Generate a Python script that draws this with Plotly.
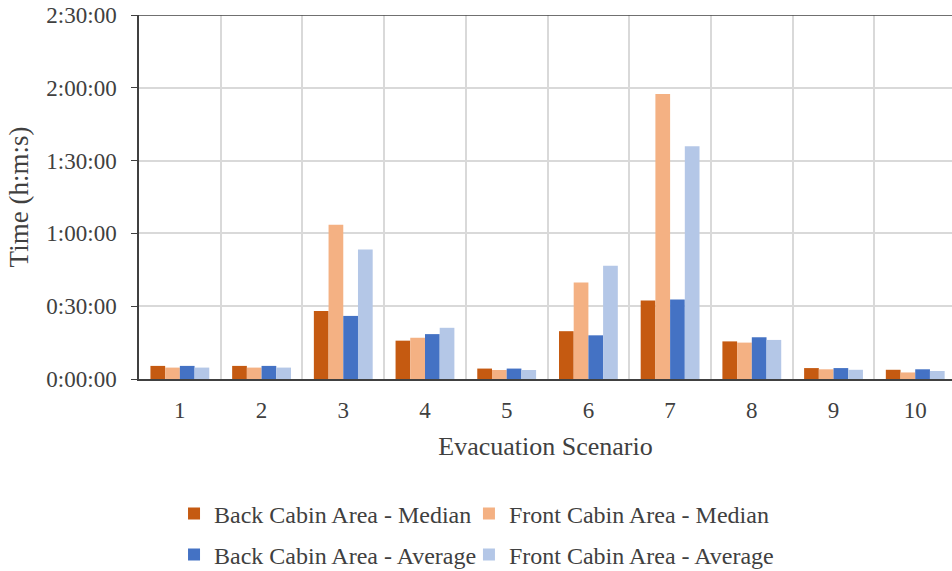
import plotly.graph_objects as go

# Evacuation times per scenario, in minutes
scenarios = [1, 2, 3, 4, 5, 6, 7, 8, 9, 10]
back_median = [5.4, 5.4, 28.0, 15.8, 4.3, 19.7, 32.4, 15.5, 4.5, 3.8]
front_median = [4.7, 4.7, 63.6, 17.0, 3.7, 39.8, 117.4, 15.0, 4.0, 2.7]
back_average = [5.4, 5.4, 26.0, 18.5, 4.3, 18.0, 32.8, 17.2, 4.5, 4.0]
front_average = [4.7, 4.7, 53.4, 21.1, 3.7, 46.7, 95.9, 16.1, 3.8, 3.3]

y_tick_vals = [0, 30, 60, 90, 120, 150]
y_tick_text = ["0:00:00", "0:30:00", "1:00:00", "1:30:00", "2:00:00", "2:30:00"]

# (name, values, colour, legend id, legend x, legend y) - legend laid out 2 x 2
series = [
    ("Back Cabin Area - Median", back_median, "#C55A11", "legend", 0.1828, 0.0998),
    ("Front Cabin Area - Median", front_median, "#F4B183", "legend2", 0.4926, 0.0998),
    ("Back Cabin Area - Average", back_average, "#4472C4", "legend3", 0.1828, 0.028),
    ("Front Cabin Area - Average", front_average, "#B4C7E7", "legend4", 0.4926, 0.028),
]

FONT = "Liberation Serif, Times New Roman, serif"
TEXT = "#404040"

fig = go.Figure()
legends = {}
for name, vals, color, leg, lx, ly in series:
    fig.add_trace(go.Bar(
        x=scenarios, y=vals, name=name, legend=leg, showlegend=True,
        marker=dict(color=color, line=dict(width=0)),
    ))
    legends[leg] = dict(
        xref="container", yref="container",
        x=lx, y=ly, xanchor="left", yanchor="middle",
        orientation="h",
        font=dict(family=FONT, size=24, color=TEXT),
        itemwidth=30, bgcolor="rgba(0,0,0,0)",
    )

fig.update_layout(
    width=952, height=571,
    margin=dict(l=139, r=0, t=15, b=192, autoexpand=False),
    paper_bgcolor="white", plot_bgcolor="white",
    barmode="group", bargap=0.28, bargroupgap=0,
    font=dict(family=FONT, color=TEXT, size=23),
    showlegend=True,
    **legends,
)

fig.update_xaxes(
    range=[0.5, 10.45],
    tickvals=scenarios, ticktext=[str(s) for s in scenarios],
    showgrid=False, zeroline=False,
    showline=True, linecolor="#404040", linewidth=1.5,
    ticks="", tickfont=dict(size=23), ticklabelstandoff=10,
    minor=dict(tickvals=[s + 0.5 for s in scenarios], showgrid=True,
               gridcolor="#D9D9D9", gridwidth=1.5, ticks=""),
    title=dict(text="Evacuation Scenario", font=dict(size=26), standoff=14),
)

fig.update_yaxes(
    range=[0, 150],
    tickvals=y_tick_vals, ticktext=y_tick_text,
    showgrid=True, gridcolor="#D9D9D9", gridwidth=1.5,
    zeroline=False,
    showline=True, linecolor="#404040", linewidth=1.5,
    ticks="outside", ticklen=6, tickcolor="#404040",
    tickfont=dict(size=23), ticklabelstandoff=10,
    title=dict(text="Time (h:m:s)", font=dict(size=27), standoff=10),
)

# dark frame line along the top of the value range
fig.add_shape(type="line", xref="paper", yref="y", x0=0, x1=1, y0=150, y1=150,
              line=dict(color="#404040", width=1.5))

fig.write_html("out.html")
